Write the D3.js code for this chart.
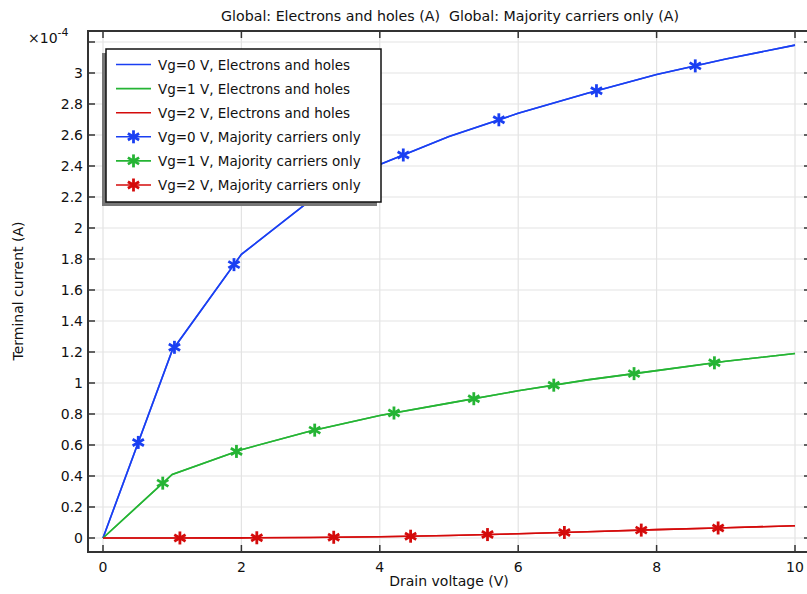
<!DOCTYPE html>
<html>
<head>
<meta charset="utf-8">
<script src="https://cdn.jsdelivr.net/npm/d3@7"></script>
<style>
  body { margin: 0; background: #fff; }
  svg { font-family: "DejaVu Sans", sans-serif; }
</style>
</head>
<body>
<div id="chart"></div>
<script>
// data (current in units of 1e-4 A)
const drainVoltage = [0, 1, 2, 3, 4, 5, 6, 7, 8, 9, 10];
const ehVg0 = [0, 1.21, 1.83, 2.18, 2.41, 2.59, 2.74, 2.87, 2.99, 3.09, 3.18];
const ehVg1 = [0, 0.41, 0.57, 0.69, 0.79, 0.87, 0.95, 1.02, 1.08, 1.14, 1.19];
const ehVg2 = [0, 0.0002, 0.001, 0.003, 0.008, 0.016, 0.027, 0.04, 0.054, 0.066, 0.079];
const majVg0 = [0, 1.21, 1.83, 2.18, 2.41, 2.59, 2.74, 2.87, 2.99, 3.09, 3.18];
const majVg1 = [0, 0.41, 0.57, 0.69, 0.79, 0.87, 0.95, 1.02, 1.08, 1.14, 1.19];
const majVg2 = [0, 0.0002, 0.001, 0.003, 0.008, 0.016, 0.027, 0.04, 0.054, 0.066, 0.079];

const seriesNames = [
    'Vg=0 V, Electrons and holes',
    'Vg=1 V, Electrons and holes',
    'Vg=2 V, Electrons and holes',
    'Vg=0 V, Majority carriers only',
    'Vg=1 V, Majority carriers only',
    'Vg=2 V, Majority carriers only'
];
const xTicks = [0, 2, 4, 6, 8, 10];
const yTicks = [0, 0.2, 0.4, 0.6, 0.8, 1, 1.2, 1.4, 1.6, 1.8, 2, 2.2, 2.4, 2.6, 2.8, 3, 3.2];
const yTickLabels = ['0', '0.2', '0.4', '0.6', '0.8', '1', '1.2', '1.4', '1.6', '1.8', '2', '2.2', '2.4', '2.6', '2.8', '3', ''];

const colors = ['#1a3ff2', '#25b434', '#d40b0b'];

const width = 807;
const height = 594;
const frame = { left: 88, right: 811, top: 31, bottom: 552 };
const markersPerCurve = 8;
const fontSize = 14;

const svg = d3.select('#chart').append('svg')
    .attr('width', width)
    .attr('height', height);

const x = d3.scaleLinear().domain([0, 10]).range([103, 795]);
const y = d3.scaleLinear().domain([0, 3]).range([538, 73]);

// grid
const grid = svg.append('g').attr('class', 'grid')
    .attr('stroke', '#e3e3e3').attr('stroke-width', 1.2);
grid.selectAll('.gx').data(xTicks).enter().append('line')
    .attr('x1', d => x(d)).attr('x2', d => x(d))
    .attr('y1', frame.top).attr('y2', frame.bottom);
grid.selectAll('.gy').data(yTicks).enter().append('line')
    .attr('y1', d => y(d)).attr('y2', d => y(d))
    .attr('x1', frame.left).attr('x2', frame.right);

// ticks on all four sides, pointing inward
const tickLen = 7;
const ticks = svg.append('g').attr('stroke', '#333').attr('stroke-width', 1.5);
xTicks.forEach(d => {
    ticks.append('line').attr('x1', x(d)).attr('x2', x(d)).attr('y1', frame.bottom).attr('y2', frame.bottom - tickLen);
    ticks.append('line').attr('x1', x(d)).attr('x2', x(d)).attr('y1', frame.top).attr('y2', frame.top + tickLen);
});
yTicks.forEach(d => {
    ticks.append('line').attr('y1', y(d)).attr('y2', y(d)).attr('x1', frame.left).attr('x2', frame.left + tickLen);
    ticks.append('line').attr('y1', y(d)).attr('y2', y(d)).attr('x1', frame.right).attr('x2', frame.right - tickLen);
});

// tick labels
svg.append('g').selectAll('text').data(xTicks).enter().append('text')
    .attr('x', d => x(d)).attr('y', 572)
    .attr('text-anchor', 'middle').attr('font-size', fontSize).attr('fill', '#111')
    .text(d => d);
svg.append('g').selectAll('text').data(yTicks).enter().append('text')
    .attr('x', 83).attr('y', d => y(d) + 5)
    .attr('text-anchor', 'end').attr('font-size', fontSize).attr('fill', '#111')
    .text((d, i) => yTickLabels[i]);

// exponent label
const expText = svg.append('text').attr('x', 28).attr('y', 43)
    .attr('font-size', fontSize).attr('fill', '#111');
expText.append('tspan').text('×10');
expText.append('tspan').attr('dy', -7).attr('font-size', 11).text('-4');

// axis titles
svg.append('text').attr('x', 449).attr('y', 586)
    .attr('text-anchor', 'middle').attr('font-size', fontSize).attr('fill', '#111')
    .text('Drain voltage (V)');
svg.append('text')
    .attr('transform', 'translate(23,291) rotate(-90)')
    .attr('text-anchor', 'middle').attr('font-size', fontSize).attr('fill', '#111')
    .text('Terminal current (A)');
svg.append('text').attr('x', 450).attr('y', 21)
    .attr('text-anchor', 'middle').attr('font-size', 14.2).attr('fill', '#111')
    .attr('xml:space', 'preserve').style('white-space', 'pre')
    .text('Global: Electrons and holes (A)  Global: Majority carriers only (A)');

// curves
const line = d3.line().x((d, i) => x(drainVoltage[i])).y(d => y(d));
const plot = svg.append('g');

const ehSeries = [ehVg0, ehVg1, ehVg2];
const majSeries = [majVg0, majVg1, majVg2];

function asterisk (g, cx, cy, r, color) {
    [90, 30, 150].forEach(a => {
        const rad = a * Math.PI / 180;
        g.append('line')
            .attr('x1', cx - r * Math.cos(rad)).attr('y1', cy - r * Math.sin(rad))
            .attr('x2', cx + r * Math.cos(rad)).attr('y2', cy + r * Math.sin(rad))
            .attr('stroke', color).attr('stroke-width', 2.8).attr('stroke-linecap', 'butt');
    });
}

ehSeries.forEach((s, i) => {
    plot.append('path').attr('d', line(s))
        .attr('fill', 'none').attr('stroke', colors[i]).attr('stroke-width', 1.6);
});
majSeries.forEach((s, i) => {
    const path = plot.append('path').attr('d', line(s))
        .attr('fill', 'none').attr('stroke', colors[i]).attr('stroke-width', 1.6)
        .attr('stroke-opacity', 0.85);
    // markers spread evenly along the drawn curve
    const node = path.node();
    const total = node.getTotalLength();
    for (let k = 1; k <= markersPerCurve; k++) {
        const p = node.getPointAtLength(total * k / (markersPerCurve + 1));
        asterisk(plot, p.x, p.y, 6.5, colors[i]);
    }
});

// frame
svg.append('rect')
    .attr('x', frame.left).attr('y', frame.top)
    .attr('width', frame.right - frame.left).attr('height', frame.bottom - frame.top)
    .attr('fill', 'none').attr('stroke', '#333').attr('stroke-width', 2);

// legend
const legend = svg.append('g');
const lg = { x: 106, y: 49, w: 275, h: 153 };
legend.append('rect')
    .attr('x', lg.x - 4).attr('y', lg.y + 4).attr('width', lg.w).attr('height', lg.h)
    .attr('fill', '#777');
legend.append('rect')
    .attr('x', lg.x).attr('y', lg.y).attr('width', lg.w).attr('height', lg.h)
    .attr('fill', '#fff').attr('stroke', '#111').attr('stroke-width', 1.5);
seriesNames.forEach((name, i) => {
    const ry = 64.5 + i * 24.1;
    const c = colors[i % 3];
    legend.append('line').attr('x1', 116).attr('x2', 151).attr('y1', ry).attr('y2', ry)
        .attr('stroke', c).attr('stroke-width', 1.6);
    if (i >= 3) asterisk(legend, 133.5, ry, 6.5, c);
    legend.append('text').attr('x', 158).attr('y', ry + 5)
        .attr('font-size', 13.5).attr('fill', '#111').text(name);
});
</script>
</body>
</html>
